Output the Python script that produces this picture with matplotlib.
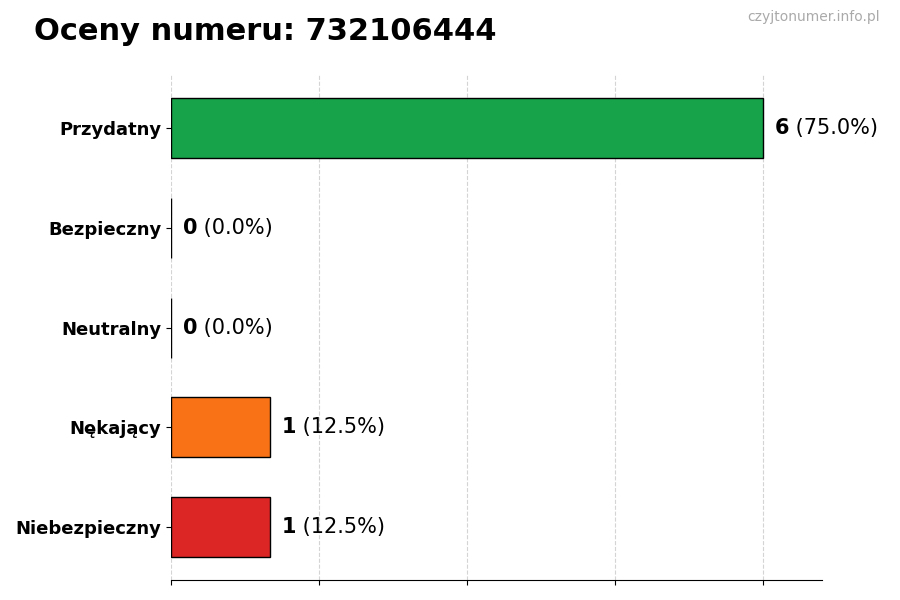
import matplotlib
matplotlib.use("Agg")
import matplotlib.pyplot as plt

categories = ["Przydatny", "Bezpieczny", "Neutralny", "Nękający", "Niebezpieczny"]
counts = [6, 0, 0, 1, 1]
colors = ["#16a34a", "#9ca3af", "#3b82f6", "#f97316", "#dc2626"]
title = "Oceny numeru: 732106444"
watermark = "czyjtonumer.info.pl"

total = sum(counts)
fig = plt.figure(figsize=(9, 6), dpi=100)
ax = fig.add_axes([0.19, 0.033, 0.723, 0.842])

ypos = list(range(len(categories)))
ax.barh(ypos, counts, height=0.6, color=colors, edgecolor="black", linewidth=1, zorder=3)
ax.invert_yaxis()
ax.set_yticks(ypos)
ax.set_yticklabels(categories, fontsize=13, fontweight="bold")
ax.set_xlim(0, max(counts) * 1.1)
ax.set_xticks([0, 1.5, 3, 4.5, 6])
ax.set_xticklabels([])
ax.grid(axis="x", linestyle="--", color="#d4d4d4", linewidth=0.8, zorder=0)
for s in ["top", "right", "left"]:
    ax.spines[s].set_visible(False)

off = max(counts) * 0.02
for y, c in zip(ypos, counts):
    t = ax.text(c + off, y, f"{c}", fontsize=15, fontweight="bold", va="center", ha="left")
    ax.annotate(f" ({c / total * 100:.1f}%)", xy=(1, 0.5), xycoords=t,
                fontsize=15, va="center", ha="left")

fig.text(0.038, 0.948, title, fontsize=22, fontweight="bold", ha="left", va="center")
fig.text(0.978, 0.972, watermark, fontsize=10, color="#aaaaaa", ha="right", va="center")

fig.savefig("out.png", dpi=100)
